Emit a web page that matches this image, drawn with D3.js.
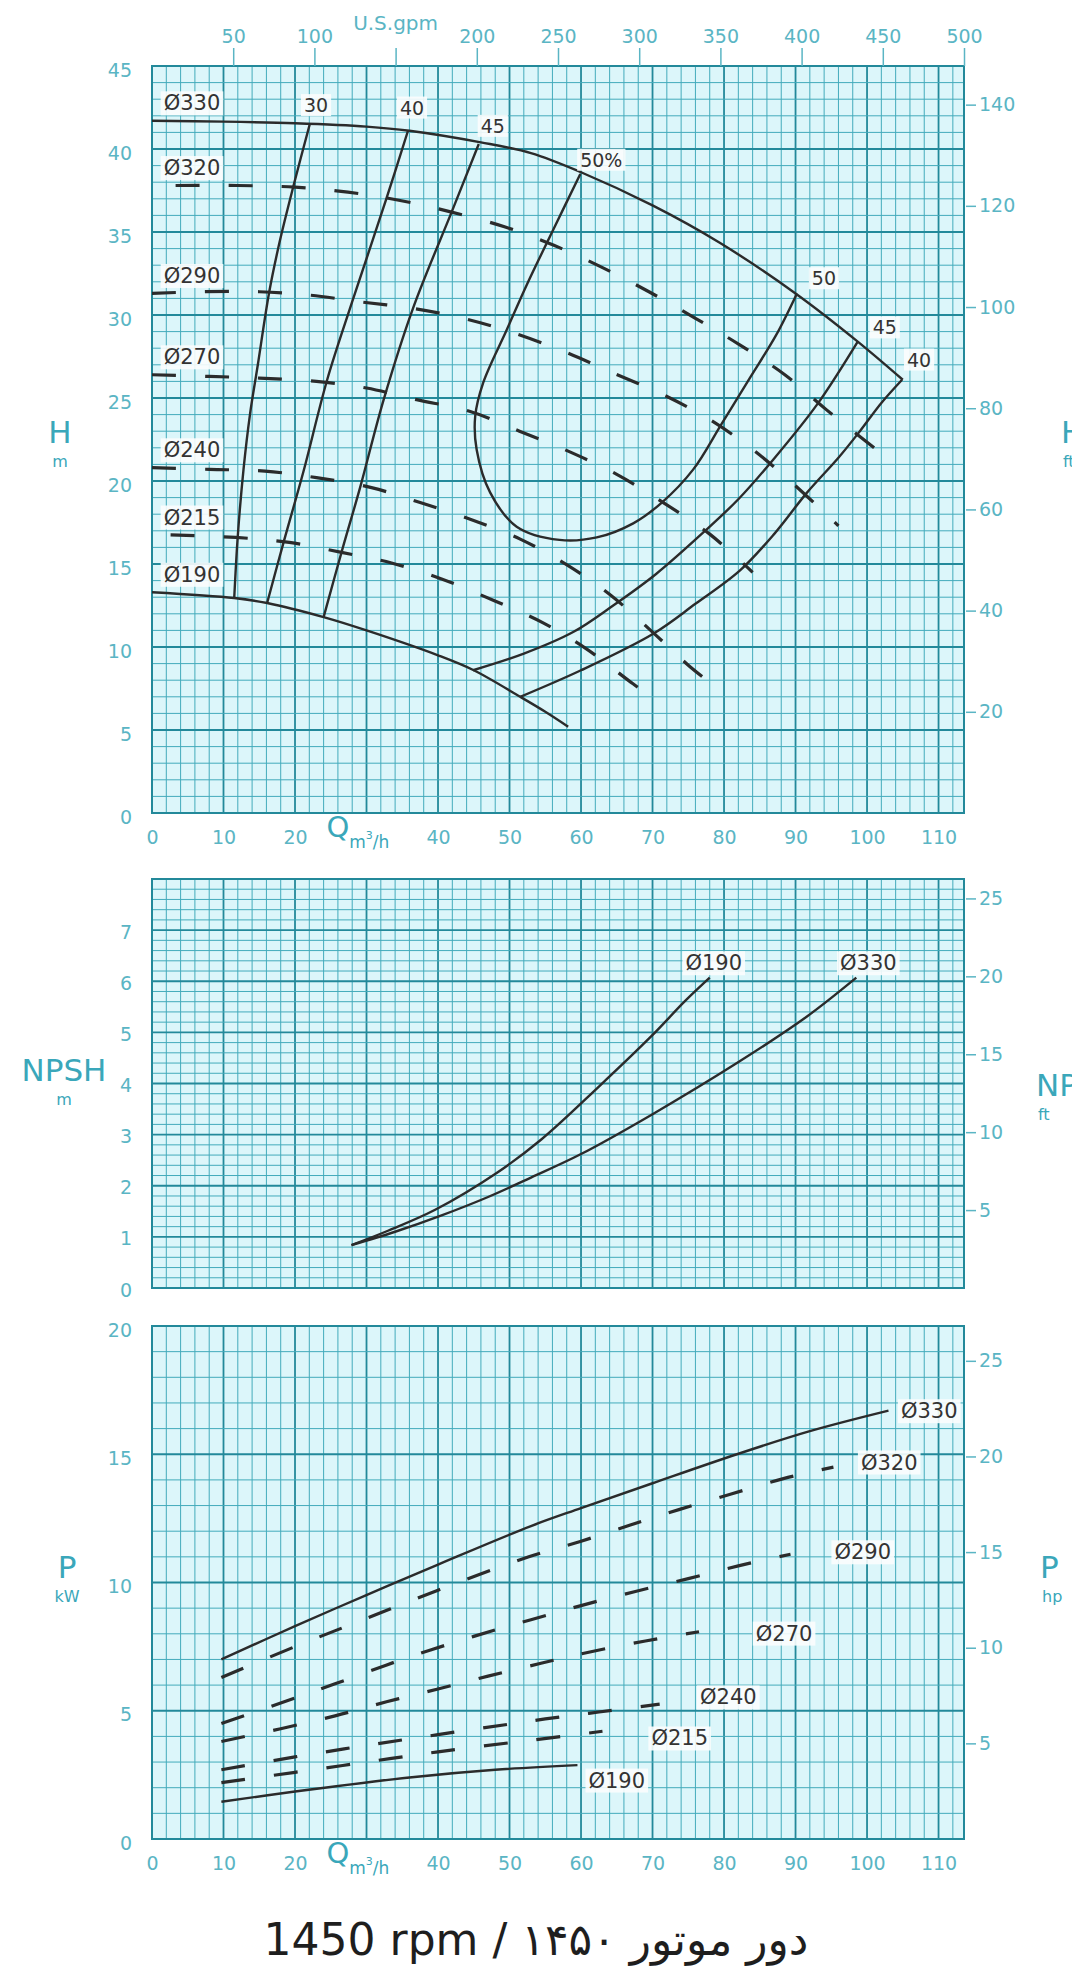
<!DOCTYPE html>
<html>
<head>
<meta charset="utf-8">
<title>Pump curves 1450 rpm</title>
<script src="https://d3js.org/d3.v7.min.js"></script>
<style>
  body { margin: 0; background: #fff; }
  svg text { font-family: "DejaVu Sans", Arial, sans-serif; }
</style>
</head>
<body>
<script>
// ---- values ----
const qTicks = [0, 10, 20, 30, 40, 50, 60, 70, 80, 90, 100, 110];
const gpmTicks = [50, 100, 150, 200, 250, 300, 350, 400, 450, 500];
const headTicks = [0, 5, 10, 15, 20, 25, 30, 35, 40, 45];
const headFtTicks = [20, 40, 60, 80, 100, 120, 140];
const npshTicks = [0, 1, 2, 3, 4, 5, 6, 7];
const npshFtTicks = [5, 10, 15, 20, 25];
const powerTicks = [0, 5, 10, 15, 20];
const powerHpTicks = [5, 10, 15, 20, 25];

const diaNames = ["Ø330", "Ø320", "Ø290", "Ø270", "Ø240", "Ø215", "Ø190"];
const dashedDia = ["Ø320", "Ø290", "Ø270", "Ø240", "Ø215"];

// H-Q curves [Q m3/h, H m]
const head330 = [[0,41.7],[10,41.65],[20,41.55],[30,41.35],[36,41.1],[46,40.4],[53,39.75],[60,38.6],[70,36.6],[79.4,34.35],[90,31.3],[98.7,28.4],[105,26.1]];
const head320 = [[3.3,37.8],[12,37.8],[20,37.7],[27.4,37.4],[34.7,36.9],[41.9,36.2],[49.4,35.3],[56.2,34.2],[62.8,32.9],[69.5,31.4],[76,29.8],[82.2,28.2],[88.5,26.4],[94.3,24.3],[101,22.0]];
const head290 = [[0,31.3],[7,31.4],[15,31.4],[22,31.2],[29,30.8],[36.5,30.4],[43.5,29.8],[50,29.0],[57.6,27.8],[64,26.6],[71.5,25.2],[78,23.7],[84,21.9],[89.5,19.9],[96,17.3]];
const head270 = [[0,26.4],[8,26.3],[15,26.2],[23,26.0],[30,25.6],[37,24.9],[44.4,24.2],[51.4,23.0],[58.2,21.8],[65,20.4],[71.5,18.7],[78,16.8],[84,14.5]];
const head240 = [[0,20.8],[8,20.7],[15.8,20.6],[23,20.2],[30.7,19.6],[37.5,18.7],[44.5,17.7],[51.5,16.5],[58.2,14.9],[64.2,13.1],[70,10.9],[75,8.9],[77,8.2]];
const head215 = [[2.6,16.75],[11.7,16.6],[19.2,16.3],[26.5,15.7],[33.5,15.06],[40.5,14.1],[47.8,12.8],[54.5,11.5],[60.7,9.9],[66.9,7.9],[68.5,7.4]];
const head190 = [[0,13.3],[11.5,12.95],[16.1,12.65],[24,11.8],[30,11.0],[40,9.5],[45,8.6],[51.5,7.0],[55,6.1],[58.2,5.2]];

// efficiency curves
const effNames = ["30", "40", "45", "50%", "50", "45", "40"];
const eff30 = [[22.1,41.55],[19.8,37.8],[17.9,34.5],[16.4,31.4],[14.8,27],[13.7,24],[12.8,20.7],[12,16.7],[11.5,12.95]];
const eff40a = [[35.8,41.1],[32.7,36.9],[28.0,30.8],[24.5,26.1],[21.2,20.6],[18.4,16.3],[16.1,12.65]];
const eff45a = [[45.7,40.3],[41.9,36.2],[36.5,30.4],[32.4,24.9],[29.1,19.6],[26.5,15.7],[24,11.8]];
const eff50 = [[59.9,38.5],[56.3,35.3],[52.5,31.9],[49.6,29.1],[46.3,25.9],[45.2,23.9],[45.4,21.9],[47.3,19.3],[51,17.25],[57,16.45],[62.2,16.6],[67.3,17.45],[71.3,18.7],[75.7,20.7],[79.6,23.4],[83.6,26.2],[87.3,28.8],[90.2,31.3]];
const eff45b = [[98.7,28.4],[93,24.6],[86.9,21.3],[82,18.9],[77.1,16.9],[70.5,14.4],[64.5,12.5],[58.9,10.9],[52,9.6],[44.9,8.6]];
const eff40b = [[104.9,26.1],[102,24.7],[99,23],[96,21.4],[91.6,19.3],[87,16.8],[82.2,14.6],[76,12.6],[70.1,10.8],[60,8.6],[51.5,7.0]];

// NPSH curves [Q, m]
const npsh190 = [[27.9,0.84],[33,1.12],[39.6,1.53],[48.2,2.25],[54.4,2.9],[62.5,3.94],[69.8,4.92],[74.6,5.62],[78,6.07]];
const npsh330 = [[27.9,0.84],[34,1.1],[40.5,1.42],[47,1.78],[53,2.16],[60,2.62],[70,3.4],[81.8,4.4],[91.5,5.3],[98.5,6.07]];

// power curves [Q, kW]
const pow330 = [[9.7,7.0],[20,8.3],[29.9,9.5],[40,10.7],[53,12.2],[60,12.9],[69.8,13.85],[81.8,15.0],[92,15.9],[103,16.7]];
const pow320 = [[9.7,6.3],[20,7.5],[30,8.6],[40,9.7],[52.7,11.0],[59.9,11.6],[67,12.25],[73.8,12.85],[81,13.45],[88.3,14.05],[95.3,14.5]];
const pow290 = [[9.7,4.5],[18,5.3],[25.6,6.05],[35,7.0],[45,7.9],[53,8.55],[60,9.1],[67.6,9.65],[75,10.15],[82,10.65],[89.3,11.1]];
const pow270 = [[9.7,3.8],[18,4.3],[25.6,4.8],[32.8,5.35],[40,5.85],[47,6.35],[54.4,6.85],[61.4,7.3],[69,7.72],[76.5,8.08]];
const pow240 = [[9.7,2.7],[20,3.2],[30,3.65],[40,4.07],[50,4.48],[55,4.68],[62.5,4.95],[71,5.26]];
const pow215 = [[9.7,2.2],[20,2.6],[30,3.0],[40,3.4],[50,3.75],[56,3.95],[63,4.2]];
const pow190 = [[9.7,1.45],[20,1.85],[36,2.4],[48,2.7],[59.5,2.88]];
// where the diameter names sit in the power panel [Q, kW]
const powLabelAt = [[108.7,16.7],[103.1,14.7],[99.4,11.2],[88.4,8.03],[80.6,5.54],[73.8,3.94],[65,2.3]];

// ---- layout ----
const W = 1072, H = 1970;
const qMax = 500 * 0.22712; // right border sits on 500 US gpm
const bg = "#dcf6fa", minorC = "#43abbb", majorC = "#23899a", tickC = "#5ab5c4", inkC = "#2b2b2b";

const svg = d3.select("body").append("svg")
  .attr("width", W).attr("height", H)
  .style("display", "block");
svg.append("rect").attr("width", W).attr("height", H).attr("fill", "#fff");

const x = d3.scaleLinear().domain([0, qMax]).range([152, 964]);
const xGpm = d3.scaleLinear().domain([0, 500]).range([152, 964]);
const yH = d3.scaleLinear().domain([0, 45]).range([813, 66]);
const yHft = d3.scaleLinear().domain([0, 45 / 0.3048]).range([813, 66]);
const yN = d3.scaleLinear().domain([0, 8]).range([1288, 879]);
const yNft = d3.scaleLinear().domain([0, 8 / 0.3048]).range([1288, 879]);
const yP = d3.scaleLinear().domain([0, 20]).range([1839, 1326]);
const yPhp = d3.scaleLinear().domain([0, 20 / 0.7457]).range([1839, 1326]);

function grid(y, minor, major) {
  const g = svg.append("g");
  const [y0, y1] = y.domain();
  g.append("rect").attr("x", x(0)).attr("y", y(y1))
    .attr("width", x(qMax) - x(0)).attr("height", y(y0) - y(y1)).attr("fill", bg);
  const qs = d3.range(2, qMax, 2);
  g.selectAll(".vq").data(qs).join("line")
    .attr("x1", d => x(d)).attr("x2", d => x(d)).attr("y1", y(y1)).attr("y2", y(y0))
    .attr("stroke", d => d % 10 === 0 ? majorC : minorC)
    .attr("stroke-width", d => d % 10 === 0 ? 1.8 : 1);
  const hs = d3.range(y0 + minor, y1 - 1e-6, minor).map(v => +v.toFixed(3));
  const isMajor = d => Math.abs(d / major - Math.round(d / major)) < 1e-6;
  g.selectAll(".hq").data(hs).join("line")
    .attr("x1", x(0)).attr("x2", x(qMax)).attr("y1", d => y(d)).attr("y2", d => y(d))
    .attr("stroke", d => isMajor(d) ? majorC : minorC)
    .attr("stroke-width", d => isMajor(d) ? 1.8 : 1);
  g.append("rect").attr("x", x(0)).attr("y", y(y1))
    .attr("width", x(qMax) - x(0)).attr("height", y(y0) - y(y1))
    .attr("fill", "none").attr("stroke", majorC).attr("stroke-width", 2);
}

grid(yH, 1, 5);
grid(yN, 0.2, 1);
grid(yP, 1, 5);

function styleAxis(g, size) {
  g.select(".domain").remove();
  g.selectAll(".tick line").attr("stroke", tickC).attr("stroke-width", 1.5);
  g.selectAll("text").attr("fill", tickC).attr("font-size", size)
    .attr("font-family", "DejaVu Sans, Arial, sans-serif");
}

// left axes
[[yH, headTicks, 4], [yN, npshTicks, 2], [yP, powerTicks, 4]].forEach(([s, t, dy]) => {
  svg.append("g").attr("transform", `translate(${x(0)},${dy})`)
    .call(d3.axisLeft(s).tickValues(t).tickSize(0).tickPadding(20))
    .call(g => styleAxis(g, 19));
});
// right axes (ft / hp)
[[yHft, headFtTicks], [yNft, npshFtTicks], [yPhp, powerHpTicks]].forEach(([s, t]) => {
  svg.append("g").attr("transform", `translate(${x(qMax) + 2},0)`)
    .call(d3.axisRight(s).tickValues(t).tickSize(10).tickPadding(3))
    .call(g => styleAxis(g, 19));
});
// top gpm axis
svg.append("g").attr("transform", `translate(0,${yH(45)})`)
  .call(d3.axisTop(xGpm).tickValues(gpmTicks).tickSize(18).tickPadding(5)
    .tickFormat(d => d === 150 ? "" : d))
  .call(g => styleAxis(g, 19));
svg.append("text").attr("x", xGpm(150)).attr("y", 30).attr("text-anchor", "middle")
  .attr("fill", tickC).attr("font-size", 20).text("U.S.gpm");

// bottom Q axes (top and bottom panel)
[[yH, 813], [yP, 1839]].forEach(([s, y0]) => {
  svg.append("g").attr("transform", `translate(0,${y0 + 8})`)
    .call(d3.axisBottom(x).tickValues(qTicks).tickSize(0).tickPadding(10)
      .tickFormat(d => d === 30 ? "" : d))
    .call(g => styleAxis(g, 19));
  const t = svg.append("text").attr("x", x(24.4)).attr("y", y0 + 24).attr("fill", "#3aa7ba");
  t.append("tspan").attr("font-size", 29).text("Q");
  t.append("tspan").attr("font-size", 17).attr("dy", 11).text("m");
  t.append("tspan").attr("font-size", 11).attr("dy", -9).text("3");
  t.append("tspan").attr("font-size", 17).attr("dy", 9).text("/h");
});

// axis titles
const titleC = "#3aa7ba";
function title(xp, yp, big, small, anchor) {
  svg.append("text").attr("x", xp).attr("y", yp).attr("text-anchor", anchor)
    .attr("fill", titleC).attr("font-size", 31).text(big);
  svg.append("text").attr("x", xp + (anchor === "start" ? 2 : 0)).attr("y", yp + 24)
    .attr("text-anchor", anchor).attr("fill", titleC).attr("font-size", 16).text(small);
}
title(60, 443, "H", "m", "middle");
title(1061, 443, "H", "ft", "start");
title(64, 1081, "NPSH", "m", "middle");
title(1036, 1096, "NPSH", "ft", "start");
title(67, 1578, "P", "kW", "middle");
title(1040, 1578, "P", "hp", "start");

// ---- curves ----
const lineOf = ys => d3.line().x(d => x(d[0])).y(d => ys(d[1])).curve(d3.curveCatmullRom.alpha(0.5));

function curve(data, ys, dashed) {
  svg.append("path").datum(data).attr("d", lineOf(ys))
    .attr("fill", "none").attr("stroke", inkC)
    .attr("stroke-width", dashed ? 3.2 : 2.4)
    .attr("stroke-dasharray", dashed ? "24 29" : null)
    .attr("stroke-linecap", "butt");
}

function label(txt, cx, cy, size) {
  const g = svg.append("g");
  const t = g.append("text").attr("x", cx).attr("y", cy).attr("dy", "0.36em")
    .attr("text-anchor", "middle").attr("fill", "#333").attr("font-size", size).text(txt);
  const b = t.node().getBBox();
  g.insert("rect", "text").attr("x", b.x - 3).attr("y", b.y).attr("width", b.width + 6)
    .attr("height", b.height).attr("fill", "#fbfdfd").attr("opacity", 0.9);
}

const headCurves = [head330, head320, head290, head270, head240, head215, head190];
const effCurves = [eff30, eff40a, eff45a, eff50, eff45b, eff40b];
effCurves.forEach(c => curve(c, yH, false));
headCurves.forEach((c, i) => curve(c, yH, dashedDia.includes(diaNames[i])));

// diameter labels above the start of each H-Q curve
headCurves.forEach((c, i) => label(diaNames[i], 192, yH(c[0][1]) - 18, 21));

// efficiency labels at the upper end of each efficiency curve
const effTops = [eff30[0], eff40a[0], eff45a[0], eff50[0], eff50[eff50.length - 1], eff45b[0], eff40b[0]];
const effOff = [[6, -18], [4, -23], [14, -18], [21, -14], [27, -15], [27, -14], [17, -20]];
effTops.forEach((p, i) => label(effNames[i], x(p[0]) + effOff[i][0], yH(p[1]) + effOff[i][1], 19));

// NPSH
curve(npsh190, yN, false);
curve(npsh330, yN, false);
label("Ø190", x(npsh190[npsh190.length - 1][0]) + 4, yN(npsh190[npsh190.length - 1][1]) - 15, 21);
label("Ø330", x(npsh330[npsh330.length - 1][0]) + 12, yN(npsh330[npsh330.length - 1][1]) - 15, 21);

// power
const powCurves = [pow330, pow320, pow290, pow270, pow240, pow215, pow190];
powCurves.forEach((c, i) => {
  curve(c, yP, dashedDia.includes(diaNames[i]));
  label(diaNames[i], x(powLabelAt[i][0]), yP(powLabelAt[i][1]), 21);
});

// footer
svg.append("text").attr("x", 536).attr("y", 1955).attr("text-anchor", "middle")
  .attr("fill", "#1e1e1e").attr("font-size", 44).attr("direction", "ltr")
  .text("1450 rpm / \u06F1\u06F4\u06F5\u06F0 \u062F\u0648\u0631 \u0645\u0648\u062A\u0648\u0631");
</script>
</body>
</html>
